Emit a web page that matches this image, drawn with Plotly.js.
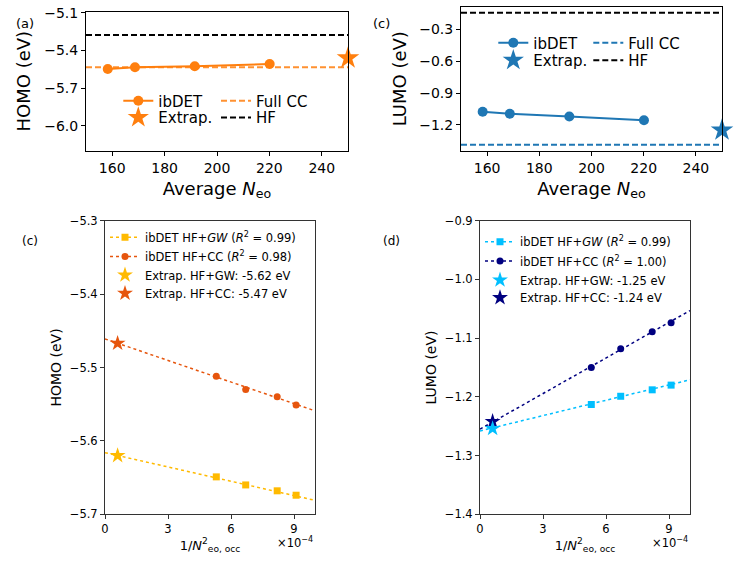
<!DOCTYPE html>
<html>
<head>
<meta charset="utf-8">
<script src="https://cdn.plot.ly/plotly-3.0.1.min.js"></script>
<style>html,body{margin:0;padding:0;background:#fff}#chart{width:736px;height:563px}</style>
</head>
<body>
<div id="chart"></div>
<script>
// ---------- data: top panels ----------
const neoAvg = [158.3, 168.7, 191.5, 220.1];
const homoIbdet = [-5.548, -5.534, -5.526, -5.508];
const homoFullCC = -5.534;
const homoHF = -5.277;
const extrapNeo = [250];
const homoExtrap = [-5.46];
const lumoIbdet = [-1.076, -1.095, -1.121, -1.156];
const lumoFullCC = -1.386;
const lumoHF = -0.143;
const lumoExtrap = [-1.25];
// ---------- data: bottom panels ----------
const invN2 = [5.3e-4, 6.7e-4, 8.2e-4, 9.1e-4];
const homoGW = [-5.649, -5.660, -5.668, -5.674];
const homoCC = [-5.512, -5.530, -5.540, -5.551];
const lumoGW = [-1.213, -1.199, -1.188, -1.180];
const lumoCC = [-1.150, -1.118, -1.089, -1.074];
const extrapX = [0.6e-4];
const homoGWExtrap = [-5.62];
const homoCCExtrap = [-5.467];
const lumoGWExtrap = [-1.254];
const lumoCCExtrap = [-1.242];
const fitX = [0, 10e-4];
const homoGWFit = [-5.616, -5.681];
const homoCCFit = [-5.461, -5.559];
const lumoGWFit = [-1.258, -1.171];
const lumoCCFit = [-1.255, -1.053];
// ---------- tick labels ----------
const topXTicks = [160, 180, 200, 220, 240];
const homoTopTicks = [-5.1, -5.4, -5.7, -6.0];
const homoTopText = ['\u22125.1', '\u22125.4', '\u22125.7', '\u22126.0'];
const lumoTopTicks = [-0.3, -0.6, -0.9, -1.2];
const lumoTopText = ['\u22120.3', '\u22120.6', '\u22120.9', '\u22121.2'];
const botXTicks = [0, 3e-4, 6e-4, 9e-4];
const botXText = ['0', '3', '6', '9'];
const homoBotTicks = [-5.7, -5.6, -5.5, -5.4, -5.3];
const homoBotText = ['\u22125.7', '\u22125.6', '\u22125.5', '\u22125.4', '\u22125.3'];
const lumoBotTicks = [-1.4, -1.3, -1.2, -1.1, -1.0, -0.9];
const lumoBotText = ['\u22121.4', '\u22121.3', '\u22121.2', '\u22121.1', '\u22121.0', '\u22120.9'];

// ---------- colours ----------
const cOrange = '#ff7f0e', cBlue = '#1f77b4';
const cGWh = '#ffba00', cCCh = '#e6550d';
const cGWl = '#00bfff', cCCl = '#000080';

const W = 736, H = 563;
const FONT = 'DejaVu Sans, Liberation Sans, sans-serif';
const px = v => v / W, py = v => 1 - v / H;
const dashS = '6px,3px';

function leg(textX, rowY, size) {
  return {x: px(textX - 40), y: py(rowY), xanchor: 'left', yanchor: 'middle',
    bgcolor: 'rgba(0,0,0,0)', borderwidth: 0, font: {family: FONT, size: size, color: '#000'}};
}
const nul = [null];
const traces = [
  // ---- (a) ----
  {x: neoAvg, y: homoIbdet, xaxis: 'x', yaxis: 'y', mode: 'lines+markers', name: 'ibDET',
   line: {color: cOrange, width: 2}, marker: {color: cOrange, size: 10}, legend: 'legend'},
  {x: extrapNeo, y: homoExtrap, xaxis: 'x', yaxis: 'y', mode: 'markers', name: 'Extrap.',
   marker: {color: cOrange, size: 17, symbol: 'star'}, legend: 'legend2', cliponaxis: false},
  {x: nul, y: nul, xaxis: 'x', yaxis: 'y', mode: 'lines', name: 'Full CC',
   line: {color: cOrange, width: 2, dash: dashS}, opacity: 0.85, legend: 'legend3'},
  {x: nul, y: nul, xaxis: 'x', yaxis: 'y', mode: 'lines', name: 'HF',
   line: {color: '#000', width: 2, dash: dashS}, legend: 'legend4'},
  // ---- (c) top ----
  {x: neoAvg, y: lumoIbdet, xaxis: 'x2', yaxis: 'y2', mode: 'lines+markers', name: 'ibDET',
   line: {color: cBlue, width: 2}, marker: {color: cBlue, size: 10}, legend: 'legend5'},
  {x: extrapNeo, y: lumoExtrap, xaxis: 'x2', yaxis: 'y2', mode: 'markers', name: 'Extrap.',
   marker: {color: cBlue, size: 17, symbol: 'star'}, legend: 'legend6', cliponaxis: false},
  {x: nul, y: nul, xaxis: 'x2', yaxis: 'y2', mode: 'lines', name: 'Full CC',
   line: {color: cBlue, width: 2, dash: dashS}, legend: 'legend7'},
  {x: nul, y: nul, xaxis: 'x2', yaxis: 'y2', mode: 'lines', name: 'HF',
   line: {color: '#000', width: 2, dash: dashS}, legend: 'legend8'},
  // ---- (c) bottom ----
  {x: fitX, y: homoGWFit, xaxis: 'x3', yaxis: 'y3', mode: 'lines', showlegend: false,
   line: {color: cGWh, width: 1.5, dash: 'dot'}},
  {x: fitX, y: homoCCFit, xaxis: 'x3', yaxis: 'y3', mode: 'lines', showlegend: false,
   line: {color: cCCh, width: 1.5, dash: 'dot'}},
  {x: invN2, y: homoGW, xaxis: 'x3', yaxis: 'y3', mode: 'markers', showlegend: false,
   marker: {color: cGWh, size: 7, symbol: 'square'}},
  {x: invN2, y: homoCC, xaxis: 'x3', yaxis: 'y3', mode: 'markers', showlegend: false,
   marker: {color: cCCh, size: 7, symbol: 'circle'}},
  {x: extrapX, y: homoGWExtrap, xaxis: 'x3', yaxis: 'y3', mode: 'markers', name: 'Extrap. HF+GW: -5.62 eV',
   marker: {color: cGWh, size: 12, symbol: 'star'}, legend: 'legend11'},
  {x: extrapX, y: homoCCExtrap, xaxis: 'x3', yaxis: 'y3', mode: 'markers', name: 'Extrap. HF+CC: -5.47 eV',
   marker: {color: cCCh, size: 12, symbol: 'star'}, legend: 'legend12'},
  {x: nul, y: nul, xaxis: 'x3', yaxis: 'y3', mode: 'lines+markers',
   name: 'ibDET HF+<i>GW</i> (<i>R</i><sup>2</sup> = 0.99)',
   line: {color: cGWh, width: 1.5, dash: 'dot'}, marker: {color: cGWh, size: 7, symbol: 'square'}, legend: 'legend9'},
  {x: nul, y: nul, xaxis: 'x3', yaxis: 'y3', mode: 'lines+markers',
   name: 'ibDET HF+CC (<i>R</i><sup>2</sup> = 0.98)',
   line: {color: cCCh, width: 1.5, dash: 'dot'}, marker: {color: cCCh, size: 7, symbol: 'circle'}, legend: 'legend10'},
  // ---- (d) ----
  {x: fitX, y: lumoGWFit, xaxis: 'x4', yaxis: 'y4', mode: 'lines', showlegend: false,
   line: {color: cGWl, width: 1.5, dash: 'dot'}},
  {x: fitX, y: lumoCCFit, xaxis: 'x4', yaxis: 'y4', mode: 'lines', showlegend: false,
   line: {color: cCCl, width: 1.5, dash: 'dot'}},
  {x: invN2, y: lumoGW, xaxis: 'x4', yaxis: 'y4', mode: 'markers', showlegend: false,
   marker: {color: cGWl, size: 7, symbol: 'square'}},
  {x: invN2, y: lumoCC, xaxis: 'x4', yaxis: 'y4', mode: 'markers', showlegend: false,
   marker: {color: cCCl, size: 7, symbol: 'circle'}},
  {x: extrapX, y: lumoCCExtrap, xaxis: 'x4', yaxis: 'y4', mode: 'markers', name: 'Extrap. HF+CC: -1.24 eV',
   marker: {color: cCCl, size: 12, symbol: 'star'}, legend: 'legend16'},
  {x: extrapX, y: lumoGWExtrap, xaxis: 'x4', yaxis: 'y4', mode: 'markers', name: 'Extrap. HF+GW: -1.25 eV',
   marker: {color: cGWl, size: 12, symbol: 'star'}, legend: 'legend15'},
  {x: nul, y: nul, xaxis: 'x4', yaxis: 'y4', mode: 'lines+markers',
   name: 'ibDET HF+<i>GW</i> (<i>R</i><sup>2</sup> = 0.99)',
   line: {color: cGWl, width: 1.5, dash: 'dot'}, marker: {color: cGWl, size: 7, symbol: 'square'}, legend: 'legend13'},
  {x: nul, y: nul, xaxis: 'x4', yaxis: 'y4', mode: 'lines+markers',
   name: 'ibDET HF+CC (<i>R</i><sup>2</sup> = 1.00)',
   line: {color: cCCl, width: 1.5, dash: 'dot'}, marker: {color: cCCl, size: 7, symbol: 'circle'}, legend: 'legend14'}
];

function axis(domain, range, tickvals, ticktext, tsize, title, tfsize, standoff, anchor, lc) {
  const a = {domain: domain, range: range, anchor: anchor, tickmode: 'array', tickvals: tickvals,
    ticks: 'outside', ticklen: 4, tickwidth: 1, tickcolor: lc, showline: true, mirror: true,
    linecolor: lc, linewidth: 1, showgrid: false, zeroline: false,
    tickfont: {family: FONT, size: tsize, color: '#000'},
    title: {text: title, font: {family: FONT, size: tfsize, color: '#000'}, standoff: standoff}};
  if (ticktext) a.ticktext = ticktext;
  return a;
}

const layout = {
  width: W, height: H, margin: {l: 0, r: 0, t: 0, b: 0},
  paper_bgcolor: '#fff', plot_bgcolor: '#fff',
  font: {family: FONT, color: '#000'},
  xaxis: axis([px(86), px(348)], [150, 250], topXTicks, null, 14, 'Average <i>N</i><sub>eo</sub>', 18, 7, 'y', '#000'),
  yaxis: axis([py(150.7), py(11.7)], [-6.2, -5.09], homoTopTicks, homoTopText, 14, 'HOMO (eV)', 18, 8, 'x', '#000'),
  xaxis2: axis([px(461), px(722)], [150, 250], topXTicks, null, 14, 'Average <i>N</i><sub>eo</sub>', 18, 7, 'y2', '#000'),
  yaxis2: axis([py(150.7), py(6.7)], [-1.443, -0.086], lumoTopTicks, lumoTopText, 14, 'LUMO (eV)', 18, 7, 'x2', '#000'),
  xaxis3: axis([px(105), px(315)], [0, 10e-4], botXTicks, botXText, 11.5, '1/<i>N</i><sup>2</sup><sub>eo, occ</sub>', 13, 4, 'y3', '#333'),
  yaxis3: axis([py(514.3), py(220.7)], [-5.7, -5.3], homoBotTicks, homoBotText, 11.5, 'HOMO (eV)', 14, 4, 'x3', '#333'),
  xaxis4: axis([px(480), px(690)], [0, 10e-4], botXTicks, botXText, 11.5, '1/<i>N</i><sup>2</sup><sub>eo, occ</sub>', 13, 4, 'y4', '#333'),
  yaxis4: axis([py(514.3), py(220.7)], [-1.4, -0.9], lumoBotTicks, lumoBotText, 11.5, 'LUMO (eV)', 14, 4, 'x4', '#333'),
  legend: leg(158.3, 101, 15), legend2: leg(158.3, 117.8, 15),
  legend3: leg(256, 101, 15), legend4: leg(256, 117.8, 15),
  legend5: leg(533.3, 43, 15), legend6: leg(533.3, 60.5, 15),
  legend7: leg(628.3, 43, 15), legend8: leg(628.3, 60.5, 15),
  legend9: leg(145, 237.3, 11.5), legend10: leg(145, 256.5, 11.5),
  legend11: leg(145, 275, 11.5), legend12: leg(145, 293.3, 11.5),
  legend13: leg(520, 241.7, 11.5), legend14: leg(520, 261, 11.5),
  legend15: leg(520, 280, 11.5), legend16: leg(520, 297.7, 11.5),
  shapes: [
    {type: 'line', xref: 'x domain', x0: 0, x1: 1, yref: 'y', y0: homoFullCC, y1: homoFullCC,
     line: {color: cOrange, width: 2, dash: dashS}, opacity: 0.85},
    {type: 'line', xref: 'x domain', x0: 0, x1: 1, yref: 'y', y0: homoHF, y1: homoHF,
     line: {color: '#000', width: 2, dash: dashS}},
    {type: 'line', xref: 'x2 domain', x0: 0, x1: 1, yref: 'y2', y0: lumoFullCC, y1: lumoFullCC,
     line: {color: cBlue, width: 2, dash: dashS}},
    {type: 'line', xref: 'x2 domain', x0: 0, x1: 1, yref: 'y2', y0: lumoHF, y1: lumoHF,
     line: {color: '#000', width: 2, dash: dashS}}
  ],
  annotations: [
    {text: '(a)', xref: 'paper', yref: 'paper', x: px(14), y: py(14), showarrow: false, font: {family: FONT, size: 13}},
    {text: '(c)', xref: 'paper', yref: 'paper', x: px(381), y: py(14), showarrow: false, font: {family: FONT, size: 13}},
    {text: '(c)', xref: 'paper', yref: 'paper', x: px(20), y: py(241), showarrow: false, font: {family: FONT, size: 12}},
    {text: '(d)', xref: 'paper', yref: 'paper', x: px(391), y: py(241), showarrow: false, font: {family: FONT, size: 12}},
    {text: '\u00d710<sup>\u22124</sup>', xref: 'x3 domain', yref: 'paper', x: 1, y: py(542), xanchor: 'right', yanchor: 'middle', showarrow: false, font: {family: FONT, size: 11.5}},
    {text: '\u00d710<sup>\u22124</sup>', xref: 'x4 domain', yref: 'paper', x: 1, y: py(542), xanchor: 'right', yanchor: 'middle', showarrow: false, font: {family: FONT, size: 11.5}}
  ]
};

Plotly.newPlot('chart', traces, layout, {staticPlot: true, displayModeBar: false});
</script>
</body>
</html>
